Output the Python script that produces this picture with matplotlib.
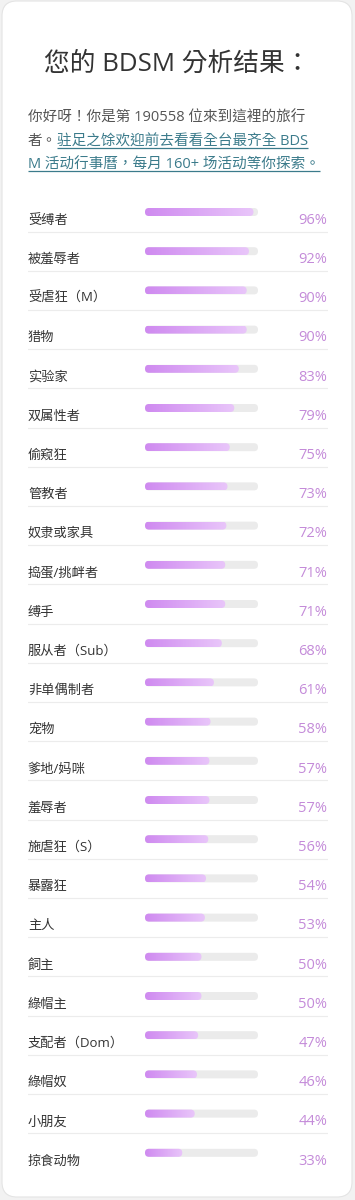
import matplotlib
matplotlib.use("Agg")
import matplotlib.pyplot as plt
import numpy as np
from matplotlib.patches import FancyBboxPatch
from matplotlib.colors import LinearSegmentedColormap

plt.rcParams['font.family'] = ['Open Sans', 'Noto Sans CJK TC', 'DejaVu Sans']

# ---- data ----
title = "您的 BDSM 分析结果："
intro_line1 = "你好呀！你是第 190558 位來到這裡的旅行"
intro_line2_plain = "者。"
intro_line2_link = "驻足之馀欢迎前去看看全台最齐全 BDS"
intro_line3_link = "M 活动行事曆，每月 160+ 场活动等你探索。"

categories = ["受缚者", "被羞辱者", "受虐狂（M）", "猎物", "实验家", "双属性者", "偷窥狂",
              "管教者", "奴隶或家具", "捣蛋/挑衅者", "缚手", "服从者（Sub）", "非单偶制者",
              "宠物", "爹地/妈咪", "羞辱者", "施虐狂（S）", "暴露狂", "主人", "飼主",
              "綠帽主", "支配者（Dom）", "綠帽奴", "小朋友", "掠食动物"]
values = [96, 92, 90, 90, 83, 79, 75, 73, 72, 71, 71, 68, 61, 58, 57, 57, 56, 54, 53,
          50, 50, 47, 46, 44, 33]

W, H = 355, 1200
fig = plt.figure(figsize=(W / 100, H / 100), dpi=100)
fig.patch.set_facecolor('#f2f2f2')

bg = fig.add_axes([0, 0, 1, 1])
bg.set_xlim(0, W)
bg.set_ylim(H, 0)
bg.axis('off')

card = FancyBboxPatch((2, 1), 350, 1196, boxstyle="round,pad=0,rounding_size=15",
                      fc='white', ec='#e4e4e4', lw=0.8)
bg.add_patch(card)

bg.text(177, 71, title, ha='center', va='baseline', fontsize=18.5, color='#333333')

txt_col = '#555555'
link_col = '#3b7b8b'
fs_intro = 10.5
bg.text(28, 122, intro_line1, ha='left', va='baseline', fontsize=fs_intro, color=txt_col)
t_plain = bg.text(28, 145.5, intro_line2_plain, ha='left', va='baseline', fontsize=fs_intro, color=txt_col)

fig.canvas.draw()
r = fig.canvas.get_renderer()
inv = bg.transData.inverted()
ext = t_plain.get_window_extent(r)
x_link = inv.transform((ext.x1, ext.y0))[0]
t_l2 = bg.text(x_link, 145.5, intro_line2_link, ha='left', va='baseline', fontsize=fs_intro, color=link_col)
t_l3 = bg.text(28, 169, intro_line3_link, ha='left', va='baseline', fontsize=fs_intro, color=link_col)
fig.canvas.draw()
for t, yb in ((t_l2, 147.8), (t_l3, 171.3)):
    e = t.get_window_extent(r)
    x0 = inv.transform((e.x0, e.y0))[0]
    x1 = inv.transform((e.x1, e.y0))[0]
    bg.plot([x0, x1], [yb, yb], color=link_col, lw=0.9, solid_capstyle='butt')

# ---- bar axes ----
px_per_unit = 1.13
bar_x0_px = 145
left_px, right_px = 28, 328
xl = -(bar_x0_px - left_px) / px_per_unit
xr = xl + (right_px - left_px) / px_per_unit
row0_px, row_step = 212, 39.2
ylim_bottom = (H - row0_px) / row_step
ylim_top = (0 - row0_px) / row_step

ax = fig.add_axes([left_px / W, 0, (right_px - left_px) / W, 1])
ax.set_facecolor('none')
ax.axis('off')

bar_h = 8 / row_step
rad = 4 / px_per_unit
ma = px_per_unit / row_step
cmap = LinearSegmentedColormap.from_list('g', ['#cf8af0', '#e9c6fa'])
grad = np.linspace(0, 1, 256).reshape(1, -1)

n = len(categories)
for i, (lab, v) in enumerate(zip(categories, values)):
    track = FancyBboxPatch((0, i - bar_h / 2), 100, bar_h,
                           boxstyle=f"round,pad=0,rounding_size={rad}",
                           mutation_aspect=ma, fc='#ebebeb', ec='none')
    ax.add_patch(track)
    clip = FancyBboxPatch((0, i - bar_h / 2), v, bar_h,
                          boxstyle=f"round,pad=0,rounding_size={rad}",
                          mutation_aspect=ma, fc='none', ec='none')
    ax.add_patch(clip)
    im = ax.imshow(grad, extent=(0, v, i + bar_h / 2, i - bar_h / 2), aspect='auto',
                   cmap=cmap, interpolation='bilinear', zorder=3)
    im.set_clip_path(clip)
    ax.text(xl, i + 0.21, lab, ha='left', va='center', fontsize=9.5, color='#333333')
    ax.text((327 - bar_x0_px) / px_per_unit, i + 0.21, f"{v}%", ha='right', va='center',
            fontsize=10.5, color='#c48bd9')
    if i < n - 1:
        ax.plot([xl, xr], [i + 0.5, i + 0.5], color='#ececec', lw=0.8)

ax.set_xlim(xl, xr)
ax.set_ylim(ylim_bottom, ylim_top)

fig.savefig('out.png', dpi=100, facecolor=fig.get_facecolor())
